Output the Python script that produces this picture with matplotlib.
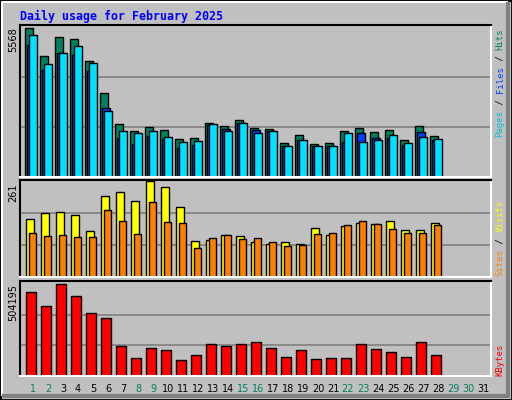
import matplotlib
matplotlib.use('Agg')
from matplotlib import pyplot as plt
from matplotlib.patches import Rectangle
from matplotlib.lines import Line2D

days = list(range(1, 32))
data_days = list(range(1, 29))
weekend_days = [1, 2, 8, 9, 15, 16, 22, 23, 29, 30]

hits = [5568, 4510, 5200, 5126, 4338, 3138, 1976, 1713, 1863, 1751, 1413, 1451, 2013, 1901,
        2126, 1826, 1788, 1263, 1563, 1226, 1263, 1713, 1826, 1676, 1751, 1376, 1901, 1526]
files = [4912, 3975, 4612, 4537, 3937, 2576, 1451, 1226, 1526, 1413, 1076, 1188, 1938, 1788,
         2013, 1751, 1713, 1151, 1376, 1151, 1151, 1301, 1638, 1451, 1451, 1188, 1676, 1376]
pages = [5306, 4225, 4637, 4862, 4262, 2463, 1713, 1638, 1713, 1488, 1301, 1338, 1976, 1713,
         2013, 1638, 1713, 1151, 1376, 1151, 1151, 1638, 1301, 1376, 1563, 1263, 1488, 1413]
visits = [157, 174, 176, 168, 124, 221, 232, 207, 261, 245, 190, 96, 99, 113,
          110, 94, 88, 94, 88, 132, 113, 138, 146, 143, 152, 127, 127, 146]
sites = [118, 110, 113, 108, 108, 182, 152, 116, 204, 149, 146, 77, 105, 113,
         102, 105, 94, 83, 85, 116, 118, 141, 152, 143, 130, 118, 118, 141]
kbytes = [460000, 383000, 504195, 438000, 344000, 316000, 162000, 101000, 156000, 145000,
          90000, 118000, 173000, 167000, 178000, 184000, 156000, 107000, 145000, 96000,
          101000, 101000, 178000, 151000, 134000, 107000, 184000, 118000]

BG = '#C0C0C0'
W, H = 512, 400
fig = plt.figure(figsize=(W / 100, H / 100), dpi=100, facecolor=BG)


def fx(px):
    return px / W


def fy(py):
    return 1 - py / H


# outer frame
fig.patches.append(Rectangle((0, 0), 1, 1, transform=fig.transFigure, fill=False, ec='black', lw=2))
fig.add_artist(Line2D([fx(2), fx(2), fx(507)], [fy(395), fy(2), fy(2)], color='white', lw=1.5))
fig.add_artist(Line2D([fx(508), fx(508), fx(4)], [fy(4), fy(396), fy(396)], color='#808080', lw=3))

fig.text(fx(20), fy(16), 'Daily usage for February 2025', color='#0000FF', family='DejaVu Sans Mono',
         weight='bold', fontsize=8.4, va='center', ha='left')


def panel(top, bottom, ymax):
    ax = fig.add_axes([fx(20), fy(bottom), fx(491) - fx(20), fy(top) - fy(bottom)])
    ax.set_facecolor(BG)
    ax.set_xlim(20, 491)
    ax.set_ylim(0, ymax)
    ax.set_xticks([])
    ax.set_yticks([])
    ax.spines['left'].set_color('black')
    ax.spines['top'].set_color('black')
    ax.spines['right'].set_color('white')
    ax.spines['bottom'].set_color('white')
    for s in ax.spines.values():
        s.set_linewidth(1.5)
    return ax


def day_x(d):
    return 25 + 15 * (d - 1)


xs = [day_x(d) for d in data_days]

# top panel
ax1 = panel(25, 177, 5568 * 151 / 148.5)
for g in (1 / 3, 2 / 3):
    ax1.axhline(max(hits) * g, color='#808080', lw=1.2, zorder=0)
ax1.bar([x for x in xs], hits, width=7.5, align='edge', color='#008060', ec='black', lw=1)
ax1.bar([x + 2 for x in xs], files, width=7.5, align='edge', color='#0040FF', ec='black', lw=1)
ax1.bar([x + 4 for x in xs], pages, width=7.5, align='edge', color='#00E0FF', ec='black', lw=1)

# middle panel
ax2 = panel(180, 276.5, max(visits) * 287 / 284)
for g in (1 / 3, 2 / 3):
    ax2.axhline(max(visits) * g, color='#808080', lw=1.2, zorder=0)
ax2.bar([x + 0.5 for x in xs], visits, width=8, align='edge', color='#FFFF00', ec='black', lw=1)
ax2.bar([x + 3.5 for x in xs], sites, width=7.5, align='edge', color='#FF8000', ec='black', lw=1)

# bottom panel
ax3 = panel(280.5, 376, max(kbytes) * 285 / 274)
for g in (1 / 3, 2 / 3):
    ax3.axhline(max(kbytes) * g, color='#808080', lw=1.2, zorder=0)
ax3.bar([x + 1.3 for x in xs], kbytes, width=10, align='edge', color='#FF0000', ec='black', lw=1)

# max labels
for txt, top in ((str(max(hits)), 27), (str(max(visits)), 184), (str(max(kbytes)), 284)):
    fig.text(fx(13), fy(top), txt, rotation=90, ha='center', va='top', fontsize=7, color='black')

# day labels
for d in days:
    c = '#008060' if d in weekend_days else 'black'
    fig.text(fx(day_x(d) + 8), fy(389), str(d), ha='center', va='center', fontsize=7, color=c)

# right-side legend labels (bottom to top)
CH = 5.45


def vlabel(parts, bottom):
    y = bottom
    for txt, col in parts:
        fig.text(fx(500), fy(y), txt, rotation=90, ha='center', va='bottom', color=col,
                 family='DejaVu Sans Mono', fontsize=6.5)
        y -= CH * len(txt)


vlabel([('Pages', '#00C0E0'), (' / ', 'black'), ('Files', '#0040FF'), (' / ', 'black'), ('Hits', '#008060')], 137)
vlabel([('Sites', '#FF8000'), (' / ', 'black'), ('Visits', '#FFFF00')], 276)
vlabel([('KBytes', '#FF0000')], 376)

fig.savefig('out.png', dpi=100, facecolor=BG)
